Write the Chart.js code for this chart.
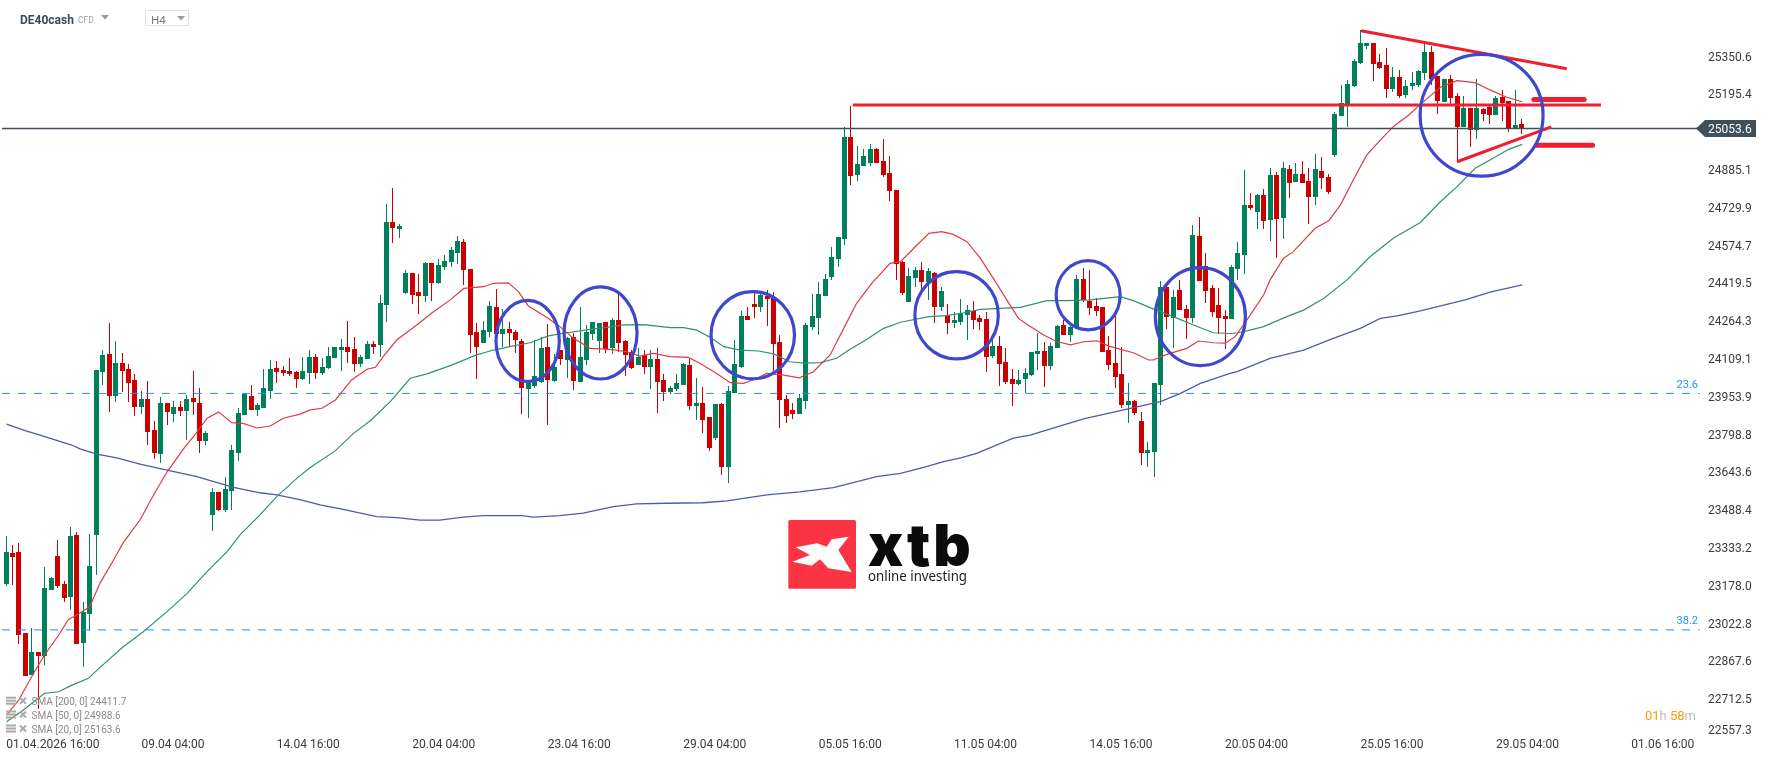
<!DOCTYPE html>
<html>
<head>
<meta charset="utf-8">
<style>html,body{margin:0;padding:0;background:#fff;overflow:hidden}canvas{display:block}</style>
<script src="https://cdn.jsdelivr.net/npm/chart.js@4"></script>
</head>
<body>
<canvas id="c" width="1768" height="761" style="width:1768px;height:761px"></canvas>
<script>
const opens=[23183,23311,23315,22983,22810,22905,22888,23159,23298,23183,23130,23385,22941,23060,23385,24054,24128,23955,24091,24066,24021,23910,23943,23816,23718,23927,23881,23910,23894,23947,23927,23771,23467,23561,23487,23565,23722,23877,23955,23898,23906,23976,24070,24062,24058,24054,24025,24050,24115,24050,24070,24111,24144,24156,24148,24087,24107,24169,24165,24329,24670,24641,24379,24460,24382,24366,24502,24419,24485,24506,24542,24588,24477,24218,24173,24218,24321,24210,24230,24218,24181,23984,23996,24013,24156,24017,24144,24103,24197,24013,24103,24210,24181,24259,24152,24267,24181,24136,24082,24123,24074,24107,24021,23972,23984,24000,24082,23914,23927,23869,23783,23923,23664,23968,24074,24284,24333,24321,24366,24358,24177,23943,23898,23881,23935,24239,24276,24366,24444,24518,24600,25019,24863,24900,24912,24969,24920,24871,24801,24505,24341,24440,24473,24423,24460,24321,24288,24255,24259,24288,24304,24276,24271,24119,24160,24095,24025,24004,24025,24041,24128,24140,24078,24152,24246,24205,24238,24436,24345,24325,24321,24144,24091,24046,23918,23935,23852,23722,23725,24000,24403,24276,24391,24312,24276,24612,24489,24399,24329,24284,24271,24477,24534,24739,24711,24781,24678,24863,24686,24887,24834,24867,24838,24772,24879,24854,24945,25105,25154,25228,25323,25392,25405,25327,25314,25216,25265,25191,25228,25232,25281,25368,25269,25162,25257,25187,25060,25138,25047,25134,25142,25109,25183,25167,25052,25072];
const closes=[23315,23294,22974,22806,22905,22888,23167,23208,23175,23126,23380,22938,23068,23257,24062,24123,23955,24091,24058,24009,23910,23943,23808,23722,23927,23890,23910,23894,23943,23931,23771,23803,23561,23487,23573,23734,23885,23964,23898,23918,23988,24066,24054,24050,24046,24025,24058,24115,24050,24074,24119,24156,24156,24136,24087,24115,24169,24156,24337,24670,24645,24653,24460,24370,24366,24502,24419,24493,24510,24555,24592,24473,24205,24156,24226,24325,24210,24230,24214,24185,23988,24017,24037,24152,24021,24074,24107,24193,24017,24115,24218,24259,24255,24148,24267,24173,24123,24070,24115,24074,24107,24013,23972,23988,24009,24087,23914,23927,23857,23742,23923,23664,23976,24087,24284,24267,24321,24370,24354,24169,23939,23873,23881,23947,24246,24284,24375,24436,24526,24608,25019,24859,24908,24941,24969,24912,24863,24797,24497,24378,24448,24473,24423,24468,24321,24386,24255,24267,24296,24308,24267,24259,24115,24160,24087,24013,24004,24021,24050,24136,24140,24078,24160,24242,24205,24238,24436,24350,24317,24304,24136,24082,24033,23918,23935,23885,23722,23734,24009,24403,24280,24362,24308,24276,24616,24427,24386,24300,24276,24271,24485,24542,24739,24727,24781,24674,24863,24682,24891,24830,24867,24830,24772,24887,24850,24793,25113,25158,25236,25331,25405,25405,25318,25302,25216,25265,25187,25228,25240,25290,25368,25257,25167,25257,25179,25060,25138,25047,25138,25113,25109,25179,25158,25056,25068,25053.6];
const highs=[23380,23343,23352,22983,23003,22905,23253,23212,23364,23196,23417,23397,23110,23389,24062,24144,24255,24181,24132,24087,24046,23976,24017,23853,23951,23927,23935,23935,23959,24058,23988,23812,23577,23561,23623,23754,23906,23964,24000,23927,24066,24103,24099,24078,24111,24058,24115,24144,24128,24111,24156,24156,24189,24263,24197,24123,24181,24181,24370,24744,24809,24662,24473,24461,24457,24506,24502,24518,24534,24567,24612,24600,24477,24255,24263,24346,24395,24313,24259,24226,24189,24017,24185,24197,24251,24128,24144,24197,24214,24321,24246,24259,24255,24259,24275,24375,24185,24144,24152,24144,24144,24152,24046,23996,24046,24091,24107,24029,23992,23869,23923,23927,23996,24185,24304,24321,24379,24383,24391,24383,24205,23959,23927,23964,24255,24375,24424,24457,24567,24608,25059,25146,24981,24969,24990,24973,25010,24940,24801,24510,24481,24485,24506,24481,24465,24403,24333,24300,24354,24329,24346,24288,24300,24201,24201,24152,24066,24062,24070,24136,24214,24177,24173,24246,24267,24259,24452,24481,24473,24358,24321,24201,24308,24156,24009,23939,23890,23767,24009,24428,24411,24391,24432,24329,24657,24690,24542,24411,24399,24308,24493,24588,24883,24789,24785,24805,24891,24875,24916,24904,24912,24920,24891,24949,24936,24867,25121,25232,25253,25339,25458,25405,25405,25359,25384,25306,25294,25253,25286,25294,25401,25392,25269,25257,25273,25199,25187,25138,25257,25138,25146,25187,25212,25167,25212,25093];
const lows=[23175,23179,22938,22806,22810,22670,22851,23159,23167,23110,23077,22938,22843,22991,23220,24000,23890,23931,23972,23931,23873,23881,23754,23697,23681,23836,23848,23873,23775,23877,23722,23754,23401,23483,23479,23487,23689,23877,23898,23873,23906,23943,24009,24037,24037,23988,24021,24005,24025,24041,24066,24111,24058,24091,24054,24074,24107,24128,24115,24259,24584,24604,24375,24333,24292,24341,24346,24415,24473,24485,24497,24411,24132,24025,24173,24197,24205,24156,24156,24132,23881,23865,23988,24009,23836,24013,24082,24029,23980,24013,24082,24185,24132,24132,24128,24136,24037,24066,24082,24046,23984,23885,23935,23964,23976,24000,23898,23857,23803,23730,23775,23631,23598,23968,24070,24267,24275,24300,24243,24050,23824,23845,23861,23881,23902,24226,24205,24366,24432,24485,24575,24821,24838,24900,24900,24912,24854,24756,24432,24370,24341,24403,24375,24350,24255,24304,24210,24234,24246,24185,24230,24226,24054,24111,23996,24004,23914,24000,23968,24037,24062,23992,24062,24152,24205,24177,24234,24341,24288,24284,24136,24062,23988,23906,23845,23877,23672,23664,23623,23918,24230,24152,24308,24189,24255,24427,24337,24280,24210,24148,24271,24432,24456,24719,24641,24641,24592,24522,24600,24768,24834,24830,24661,24739,24805,24785,24936,25105,25060,25224,25318,25380,25248,25298,25179,25203,25179,25179,25212,25224,25253,25232,25113,25162,25154,24916,25060,24978,25010,25084,25072,25109,25084,25039,25052,25031];

const sma20X=[0,1.9,4.2,5.9,8.1,9.6,10.9,12.9,14.5,16.6,18.1,20.7,22.8,24.9,27.7,29.3,31.1,32.9,34.9,36.7,38.8,40.9,42.9,45.5,47.1,48.9,51,53.5,55.9,57.2,58.4,60.5,63.6,66.2,68.8,70.9,74,75.5,77.8,79.4,80.9,83.8,85.8,87.9,90.5,93.6,96.2,98.2,100.3,102.9,105.7,107.5,110.1,112.2,114.3,116.3,117.9,120.5,122.9,125.1,127.7,129.8,131.8,134.2,137,138.6,140.9,143,145,146.8,148.9,151,153,155.1,156.9,158.2,160.8,162.9,165,167,169.1,170.9,174.7,177.1,177.8,179.9,183,184.8,187.1,188.9,190.5,192.3,194.9,195.9,198,199.5,202.9,205,206.8,208.8,210.9,213,215,217.4,219.7,222.3,224.9,227.7,230,232.6,235];
const sma20Y=[22645,22707,22817,22892,22974,23038,23056,23090,23187,23282,23353,23446,23549,23644,23747,23799,23864,23890,23846,23843,23824,23832,23864,23881,23898,23905,23939,24021,24065,24073,24117,24185,24247,24301,24350,24397,24404,24418,24420,24383,24325,24278,24240,24192,24151,24147,24137,24119,24130,24117,24114,24090,24048,24010,24007,24028,24048,24041,24030,24055,24124,24233,24336,24420,24500,24507,24568,24623,24630,24619,24589,24520,24438,24349,24274,24250,24206,24178,24165,24178,24182,24160,24133,24103,24103,24126,24151,24181,24174,24172,24199,24267,24370,24432,24521,24548,24644,24675,24739,24842,24945,25006,25061,25109,25164,25223,25250,25242,25212,25182,25163.6];
const sma50X=[0,2.6,5.9,8.1,9.9,12.7,14.5,18.1,21.2,24.9,28,31.1,34.2,36.2,39.3,41.9,45,47.1,51,53.8,56.4,59.5,62.6,65.2,68.8,72.9,75.5,78.6,81.2,84,86.4,90.5,93.1,95.7,98.8,102.9,105,107,109.1,111.2,113.7,116.6,118.9,121.5,123.6,126.2,128.7,130.8,133.4,136,138.6,143,145.8,148.4,151,154,157.2,161.3,164.4,168,172.7,174.7,177.6,180.9,184,187.1,189.7,191,192.8,194.9,198.5,201.1,204.2,207.8,211.4,215,219.2,222.3,224.9,227.7,230,232.9,235];
const sma50Y=[22618,22666,22735,22741,22765,22796,22841,22926,22987,23070,23145,23234,23316,23385,23467,23542,23617,23662,23731,23802,23854,23932,24028,24046,24080,24124,24144,24161,24174,24202,24213,24229,24237,24247,24248,24236,24236,24226,24196,24158,24144,24140,24128,24096,24090,24092,24110,24147,24188,24233,24258,24281,24285,24297,24311,24315,24319,24347,24347,24350,24363,24347,24315,24281,24247,24215,24212,24215,24226,24240,24281,24308,24356,24431,24527,24603,24668,24753,24815,24890,24924,24968,24988.6];
const sma200X=[0,2.9,5.7,10.1,11.4,14,17.1,20.7,24.9,29.5,35.2,39.3,41.9,45.8,48.6,52.2,57.4,60.5,64.1,67.2,70.8,73.9,79.9,81.7,85.8,89.4,94.1,97.7,102.4,108,111.7,115.3,117.9,123,128.2,130.8,134.9,138.6,142.2,145.3,148.1,150.4,156.1,158.7,162.9,167,173.2,178.9,182,185.1,189.7,190.8,195.9,201.1,205.7,209.9,213,215.6,219.2,226.3,230,235];
const sma200Y=[23840,23813,23791,23754,23738,23717,23701,23676,23651,23624,23580,23558,23549,23528,23508,23490,23460,23456,23446,23446,23458,23464,23464,23458,23464,23474,23501,23512,23515,23517,23525,23539,23549,23562,23579,23597,23624,23638,23662,23686,23702,23720,23782,23795,23829,23861,23898,23932,23966,24007,24048,24055,24110,24144,24192,24233,24274,24284,24305,24351,24382,24411.7];

const priceTicks=[25350.6,25195.4,24885.1,24729.9,24574.7,24419.5,24264.3,24109.1,23953.9,23798.8,23643.6,23488.4,23333.2,23178.0,23022.8,22867.6,22712.5,22557.3];
const timeTickPos=[7.2,25.8,46.8,67.8,88.8,109.8,130.8,151.8,172.8,193.8,214.8,235.8,256.8];
const timeTickLabels=["01.04.2026 16:00","09.04 04:00","14.04 16:00","20.04 04:00","23.04 16:00","29.04 04:00","05.05 16:00","11.05 04:00","14.05 16:00","20.05 04:00","25.05 16:00","29.05 04:00","01.06 16:00"];
const lastPrice=25053.6;
const fibLevels=[23966,22995];
const fibNames=["23.6","38.2"];
const resistanceLevel=25150;
const resistanceX=[131.2,247.2];
const upperTrendX=[210,241.9],upperTrendY=[25455,25299];
const lowerTrendX=[224.9,239.5],lowerTrendY=[24917,25060];
const targetUpX=[236.8,244.6],targetUpY=25173;
const targetDownX=[237.2,245.9],targetDownY=24985;
const circleX=[80.8,92.1,115.7,147.3,167.7,185.1,228.7];
const circleY=[24181,24214,24205,24287,24369,24281,25108];
const circleRX=[4.91,5.66,6.47,6.47,4.96,6.98,9.53];
const circleRY=[167,189,179,179,142,201,250];
const smaLegend=["SMA [200, 0] 24411.7","SMA [50, 0] 24988.6","SMA [20, 0] 25163.6"];

const UP='#00805a',DOWN='#cc0000',FONT='Roboto';
const LABEL_NUDGE=6;
const xy=(xs,ys)=>xs.map((x,i)=>({x,y:Array.isArray(ys)?ys[i]:ys}));
const col=c=>closes[c.dataIndex]>=opens[c.dataIndex]?UP:DOWN;
const lineDs=(data,color,width,order,extra)=>Object.assign({type:'line',data,borderColor:color,borderWidth:width,pointRadius:0,tension:0,fill:false,order},extra||{});

const snap={id:'snap',afterDatasetsUpdate(chart){
  chart.data.datasets.forEach((d,k)=>{
    if(d.type!=='bar')return;
    chart.getDatasetMeta(k).data.forEach(el=>{
      el.x=Math.floor(el.x-0.5)+0.5;
      const t=Math.round(Math.min(el.y,el.base));let b=Math.round(Math.max(el.y,el.base));
      if(b<=t)b=t+1;
      el.y=t;el.base=b;el.height=b-t;
    });
  });
}};

const overlay={id:'overlay',afterDatasetsDraw(chart){
  const {ctx,scales:{x,y}}=chart;
  ctx.save();
  // circled areas
  ctx.strokeStyle='#3f48cc';ctx.lineWidth=3.2;
  circleX.forEach((cx,i)=>{
    ctx.beginPath();
    ctx.ellipse(x.getPixelForValue(cx),y.getPixelForValue(circleY[i]),
      Math.abs(x.getPixelForValue(cx+circleRX[i])-x.getPixelForValue(cx)),
      Math.abs(y.getPixelForValue(circleY[i]+circleRY[i])-y.getPixelForValue(circleY[i])),0,0,Math.PI*2);
    ctx.stroke();
  });
  // price tag
  const py=y.getPixelForValue(lastPrice);
  ctx.fillStyle='#3f4f5b';
  ctx.beginPath();ctx.moveTo(1696,py);ctx.lineTo(1705,py-8.5);ctx.lineTo(1756,py-8.5);ctx.lineTo(1756,py+8.5);ctx.lineTo(1705,py+8.5);ctx.closePath();ctx.fill();
  ctx.fillStyle='#fff';ctx.font='12px '+FONT;ctx.textAlign='left';ctx.textBaseline='middle';
  ctx.fillText(lastPrice.toFixed(1),1708,py+1);
  // fib labels
  ctx.fillStyle='#2196f3';ctx.font='11px '+FONT;ctx.textAlign='right';ctx.textBaseline='alphabetic';
  fibLevels.forEach((v,i)=>ctx.fillText(fibNames[i],1698,y.getPixelForValue(v)-5.5));
  // header
  ctx.textAlign='left';ctx.textBaseline='alphabetic';
  ctx.fillStyle='#3d4b55';ctx.font='bold 12px '+FONT;ctx.fillText('DE40cash',20,23.5);
  ctx.fillStyle='#a0a0a0';ctx.font='8.5px '+FONT;ctx.fillText('CFD',78,23);
  const tri=(tx,ty)=>{ctx.fillStyle='#999';ctx.beginPath();ctx.moveTo(tx,ty);ctx.lineTo(tx+8,ty);ctx.lineTo(tx+4,ty+4.5);ctx.closePath();ctx.fill();};
  tri(101,15);
  ctx.strokeStyle='#e2e2e2';ctx.lineWidth=1;ctx.strokeRect(145.5,10.5,43,15);
  ctx.fillStyle='#7a7a7a';ctx.font='11.5px '+FONT;ctx.fillText('H4',151,24);
  tri(177,16);
  // sma legend
  const ly=[701.7,715.5,729.5];
  smaLegend.forEach((t,i)=>{
    ctx.fillStyle='#aaa';
    ctx.fillRect(6,ly[i]-5,10,2);ctx.fillRect(6,ly[i]-2,10,2);ctx.fillRect(6,ly[i]+1,10,2);
    ctx.strokeStyle='#aaa';ctx.lineWidth=2;ctx.beginPath();
    ctx.moveTo(20,ly[i]-4);ctx.lineTo(26,ly[i]+2);ctx.moveTo(26,ly[i]-4);ctx.lineTo(20,ly[i]+2);ctx.stroke();
    ctx.fillStyle='#8a8a8a';ctx.font='10px '+FONT;ctx.textBaseline='middle';ctx.fillText(t,31.5,ly[i]+0.5);
  });
  // countdown
  ctx.textBaseline='middle';ctx.font='13px '+FONT;ctx.textAlign='left';
  let tx=1645;
  [['01','#ff9800'],['h ','#bdbdbd'],['58','#ff9800'],['m','#bdbdbd']].forEach(([s,c])=>{ctx.fillStyle=c;ctx.fillText(s,tx,716.5);tx+=ctx.measureText(s).width;});
  // logo
  ctx.fillStyle='#fb3444';
  ctx.beginPath();ctx.roundRect(788.3,520,67.7,68.7,1.5);ctx.fill();
  ctx.fillStyle='#fff';
  const pts=[[107,142],[172,130],[200,140],[215,118],[266,110],[235,150],[275,216],[205,205],[180,178],[155,197],[97,185],[150,165]];
  ctx.beginPath();pts.forEach((p,i)=>{const X=760+p[0]/3,Y=500+p[1]/3;i?ctx.lineTo(X,Y):ctx.moveTo(X,Y);});ctx.closePath();ctx.fill();
  ctx.fillStyle='#0b0b0b';ctx.textBaseline='alphabetic';ctx.textAlign='left';
  ctx.font='900 58px Inter';ctx.letterSpacing='3px';ctx.fillText('xtb',868,565.7);ctx.letterSpacing='0px';
  ctx.fillStyle='#222';ctx.font='14px "Noto Sans"';ctx.fillText('online investing',868,581,99);
  ctx.restore();
}};

new Chart(document.getElementById('c'),{
  type:'bar',
  data:{datasets:[
    lineDs(xy([-0.7,262.5],lastPrice),'#3f4f5b',1.4,1),
    lineDs(xy([-0.7,262.5],fibLevels[0]),'#1e90ff',1,2,{borderDash:[8,8]}),
    lineDs(xy([-0.7,262.5],fibLevels[1]),'#1e90ff',1,2,{borderDash:[8,8]}),
    lineDs(xy(resistanceX,resistanceLevel),'#f21d2f',3,0),
    lineDs(xy(upperTrendX,upperTrendY),'#f21d2f',3,0),
    lineDs(xy(lowerTrendX,lowerTrendY),'#f21d2f',3,0),
    lineDs(xy(targetUpX,targetUpY),'#f21d2f',5,0,{borderCapStyle:'round'}),
    lineDs(xy(targetDownX,targetDownY),'#f21d2f',5,0,{borderCapStyle:'round'}),
    lineDs(xy(sma20X,sma20Y),'#dd3c40',1.2,3),
    lineDs(xy(sma50X,sma50Y),'#2f9270',1.2,3),
    lineDs(xy(sma200X,sma200Y),'#5159ac',1.3,3),
    {type:'bar',data:highs.map((h,i)=>({x:i,y:[lows[i],h]})),backgroundColor:col,barThickness:1,grouped:false,inflateAmount:0,borderWidth:0,order:6},
    {type:'bar',data:opens.map((o,i)=>({x:i,y:[o,closes[i]]})),backgroundColor:col,barThickness:5,grouped:false,inflateAmount:0,borderWidth:0,order:5}
  ]},
  options:{
    responsive:false,animation:false,devicePixelRatio:1,
    layout:{padding:0},
    plugins:{legend:{display:false},tooltip:{enabled:false},title:{display:false}},
    scales:{
      x:{type:'linear',offset:false,min:-1.0078,max:262.56,
        grid:{display:false,drawTicks:false},border:{display:false},
        afterBuildTicks:s=>{s.ticks=timeTickPos.map(v=>({value:v}));},
        afterFit:s=>{s.height=24;s.paddingLeft=0;s.paddingRight=0;},
        ticks:{autoSkip:false,maxRotation:0,minRotation:0,padding:1,color:'#3b3b3b',font:{family:FONT,size:12},
          callback:(v,i)=>timeTickLabels[i]}},
      y:{position:'right',min:22555.2,max:25581.2,
        grid:{display:false,drawTicks:false},border:{display:false},
        afterBuildTicks:s=>{s.ticks=priceTicks.map((v,i)=>({value:i===priceTicks.length-1?v:v-LABEL_NUDGE}));},
        afterFit:s=>{s.width=68;s.paddingTop=0;s.paddingBottom=0;},
        ticks:{autoSkip:false,padding:8,color:'#3b3b3b',font:{family:FONT,size:12,lineHeight:0.9},
          callback:(v,i)=>i===priceTicks.length-1?[priceTicks[i].toFixed(1),'']:priceTicks[i].toFixed(1)}}
    }
  },
  plugins:[snap,overlay]
});
</script>
</body>
</html>
